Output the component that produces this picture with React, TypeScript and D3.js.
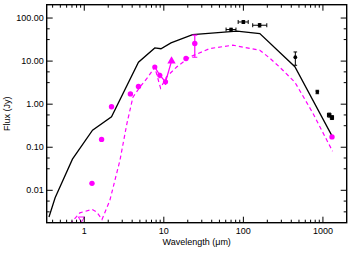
import React, { useEffect, useRef } from 'react';
import * as d3 from 'd3';

// black model (star + envelope)
const modelWave = [0.36, 0.43, 0.71, 1.27, 2.2, 4.8, 7.7, 9.2, 12.3, 23, 83, 161, 444, 1320];
const modelFlux = [0.0024, 0.0067, 0.053, 0.25, 0.51, 9.4, 20.2, 19.4, 26.4, 41, 49.4, 43.7, 7.4, 0.174];

// magenta dashed model
const diskWave = [0.66, 0.88, 1.25, 1.44, 1.67, 2.1, 2.81, 3.44, 4.09, 5.0, 6.3, 7.7, 9.1, 10.8, 14.5, 21.3, 37.9, 73.8, 161, 215, 287, 444, 747, 1320];
const diskFlux = [0.00164, 0.003, 0.0036, 0.0031, 0.0021, 0.0059, 0.05, 0.36, 1.45, 2.48, 4.23, 7.2, 2.35, 4.3, 7.3, 12.5, 19.6, 23.4, 17.9, 11.7, 7.2, 3.24, 0.62, 0.081];

// magenta photometry
const photWave = [1.25, 1.65, 2.2, 3.8, 4.8, 19, 1300];
const photFlux = [0.0145, 0.152, 0.87, 1.73, 2.57, 11.5, 0.174];

// mid-IR points joined by a line
const specWave = [7.7, 8.9, 10.5, 12.5];
const specFlux = [7.3, 4.7, 3.3, 10.0];
const specLo = [6.8, 4.0, 2.8, 9.0];
const specHi = [7.8, 5.4, 3.8, 11.0];

// magenta point with big error bar
const errWave = [24.5];
const errFlux = [25.6];
const errLo = [12.3];
const errHi = [39.9];

// upper limit
const limitWave = [0.92];
const limitFlux = [0.0021];

// black far-IR / submm points
const farWave = [70, 100, 160, 450, 850, 1200, 1300];
const farFlux = [54, 81, 68, 12.3, 1.93, 0.56, 0.49];
const farFluxLo = [50, 75, 62, 8.0, 1.75, 0.5, 0.44];
const farFluxHi = [58, 87, 74, 16.3, 2.1, 0.62, 0.54];
const farWaveLo = [60.6, 86, 131, 450, 850, 1140, 1240];
const farWaveHi = [80.7, 115, 197, 450, 850, 1260, 1360];

const xTicks = [1, 10, 100, 1000];
const yTicks = [0.01, 0.1, 1, 10, 100];

const W = 358, H = 258;
const L = 46.7, R = 346.7, T = 4.7, B = 222.7;
const MAG = '#ff00ff';
const FONT = 'Liberation Sans, Arial, Helvetica, sans-serif';

const App = () => {
  const ref = useRef<SVGSVGElement>(null);

  useEffect(() => {
    const svg = d3.select(ref.current);
    svg.selectAll('*').remove();

    const x = d3.scaleLog().domain([0.337, 1990]).range([L, R]);
    const y = d3.scaleLog().domain([0.00177, 204]).range([B, T]);

    svg.append('defs').append('clipPath').attr('id', 'plot')
      .append('rect').attr('x', L).attr('y', T).attr('width', R - L).attr('height', B - T);

    const g = svg.append('g').attr('clip-path', 'url(#plot)');

    const line = d3.line<[number, number]>().x(d => x(d[0])).y(d => y(d[1]));

    // dashed model
    g.append('path')
      .attr('d', line(diskWave.map((w, i) => [w, diskFlux[i]])))
      .attr('fill', 'none').attr('stroke', MAG).attr('stroke-width', 1.2)
      .attr('stroke-dasharray', '4,3');

    // black model
    g.append('path')
      .attr('d', line(modelWave.map((w, i) => [w, modelFlux[i]])))
      .attr('fill', 'none').attr('stroke', '#000').attr('stroke-width', 1.3);

    // spectrum-like points
    g.append('path')
      .attr('d', line(specWave.map((w, i) => [w, specFlux[i]])))
      .attr('fill', 'none').attr('stroke', MAG).attr('stroke-width', 1.3);
    specWave.forEach((w, i) => {
      g.append('line').attr('x1', x(w)).attr('x2', x(w))
        .attr('y1', y(specLo[i])).attr('y2', y(specHi[i]))
        .attr('stroke', MAG).attr('stroke-width', 1.2);
    });
    specWave.slice(0, 3).forEach((w, i) => {
      g.append('circle').attr('cx', x(w)).attr('cy', y(specFlux[i])).attr('r', 2.6).attr('fill', MAG);
    });
    const tri = d3.symbol().type(d3.symbolTriangle).size(30);
    g.append('path').attr('d', tri())
      .attr('transform', `translate(${x(specWave[3])},${y(specFlux[3])})`)
      .attr('fill', MAG);

    // magenta photometry
    photWave.forEach((w, i) => {
      g.append('circle').attr('cx', x(w)).attr('cy', y(photFlux[i])).attr('r', 2.7).attr('fill', MAG);
    });

    // magenta error point
    errWave.forEach((w, i) => {
      const cx = x(w);
      g.append('line').attr('x1', cx).attr('x2', cx).attr('y1', y(errLo[i])).attr('y2', y(errHi[i]))
        .attr('stroke', MAG).attr('stroke-width', 1.2);
      [errLo[i], errHi[i]].forEach(v => {
        g.append('line').attr('x1', cx - 2.5).attr('x2', cx + 2.5).attr('y1', y(v)).attr('y2', y(v))
          .attr('stroke', MAG).attr('stroke-width', 1.2);
      });
      g.append('circle').attr('cx', cx).attr('cy', y(errFlux[i])).attr('r', 2.7).attr('fill', MAG);
    });

    // upper limit triangle (open, pointing down)
    limitWave.forEach((w, i) => {
      const cx = x(w), cy = y(limitFlux[i]);
      g.append('path')
        .attr('d', `M${cx - 3},${cy - 2.5}L${cx + 3},${cy - 2.5}L${cx},${cy + 2.8}Z`)
        .attr('fill', 'none').attr('stroke', MAG).attr('stroke-width', 1);
    });

    // black points
    farWave.forEach((w, i) => {
      const cx = x(w), cy = y(farFlux[i]);
      const xl = x(farWaveLo[i]), xh = x(farWaveHi[i]);
      const yl = y(farFluxLo[i]), yh = y(farFluxHi[i]);
      if (xh - xl > 1) {
        g.append('line').attr('x1', xl).attr('x2', xh).attr('y1', cy).attr('y2', cy)
          .attr('stroke', '#000').attr('stroke-width', 1);
        [xl, xh].forEach(v => g.append('line').attr('x1', v).attr('x2', v).attr('y1', cy - 2).attr('y2', cy + 2)
          .attr('stroke', '#000').attr('stroke-width', 1));
      }
      g.append('line').attr('x1', cx).attr('x2', cx).attr('y1', yl).attr('y2', yh)
        .attr('stroke', '#000').attr('stroke-width', 1);
      [yl, yh].forEach(v => g.append('line').attr('x1', cx - 1.8).attr('x2', cx + 1.8).attr('y1', v).attr('y2', v)
        .attr('stroke', '#000').attr('stroke-width', 1));
      g.append('circle').attr('cx', cx).attr('cy', cy).attr('r', 1.9).attr('fill', '#000');
    });

    // frame
    svg.append('rect').attr('x', L).attr('y', T).attr('width', R - L).attr('height', B - T)
      .attr('fill', 'none').attr('stroke', '#000').attr('stroke-width', 1.4);

    const ax = svg.append('g').attr('stroke', '#000').attr('stroke-width', 1);

    // x ticks, major + minor, bottom and top, pointing inward
    const [x0, x1] = x.domain();
    for (let e = Math.floor(Math.log10(x0)); e <= Math.ceil(Math.log10(x1)); e++) {
      for (let k = 1; k <= 9; k++) {
        const v = k * Math.pow(10, e);
        if (v < x0 || v > x1) continue;
        const len = k === 1 ? 6 : 3;
        const px = x(v);
        ax.append('line').attr('x1', px).attr('x2', px).attr('y1', B).attr('y2', B - len);
        ax.append('line').attr('x1', px).attr('x2', px).attr('y1', T).attr('y2', T + len);
      }
    }

    // y ticks, major plus quarter-decade minors
    const [y0, y1] = y.domain();
    for (let e = Math.floor(Math.log10(y0)); e <= Math.ceil(Math.log10(y1)) + 1; e++) {
      const vals = [[Math.pow(10, e), 6], [Math.pow(10, e - 0.25), 3], [Math.pow(10, e - 0.5), 3]] as [number, number][];
      vals.forEach(([v, len]) => {
        if (v < y0 || v > y1) return;
        const py = y(v);
        ax.append('line').attr('x1', L).attr('x2', L + len).attr('y1', py).attr('y2', py);
        ax.append('line').attr('x1', R).attr('x2', R - len).attr('y1', py).attr('y2', py);
      });
    }

    const txt = svg.append('g').attr('font-family', FONT).attr('font-size', 9).attr('fill', '#000');

    xTicks.forEach(v => {
      txt.append('text').attr('x', x(v)).attr('y', B + 11.5).attr('text-anchor', 'middle').text(String(v));
    });
    yTicks.forEach(v => {
      txt.append('text').attr('x', L - 3).attr('y', y(v)).attr('dy', '0.35em')
        .attr('text-anchor', 'end').text(d3.format('.2f')(v));
    });

    txt.append('text').attr('x', (L + R) / 2).attr('y', B + 22)
      .attr('text-anchor', 'middle').text('Wavelength (\u03bcm)');
    txt.append('text').attr('transform', `translate(10,${(T + B) / 2}) rotate(-90)`)
      .attr('text-anchor', 'middle').text('Flux (Jy)');
  }, []);

  return (
    <svg ref={ref} width={W} height={H} style={{ position: 'absolute', left: 0, top: 0, background: '#fff' }} />
  );
};

export default App;
